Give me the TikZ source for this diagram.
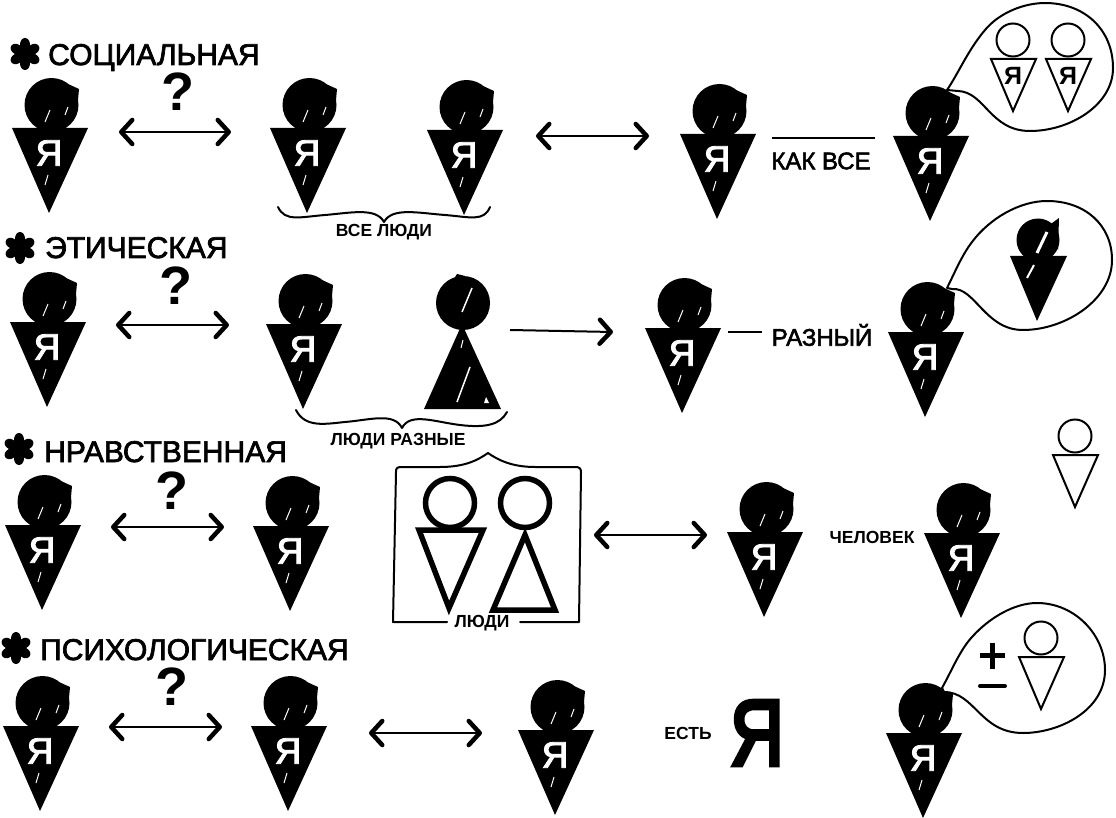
\documentclass[tikz,border=0pt]{standalone}
\usepackage{fontspec}
\setmainfont{Liberation Sans}
\newfontfamily\heavy[FakeBold=2.4]{Liberation Sans}
\newfontfamily\hvy[FakeBold=5]{Liberation Sans}
\usetikzlibrary{arrows.meta}
\tikzset{
  x=1pt,y=-1pt,
  headdot/.style={circle,fill=black,inner sep=0pt,minimum size=54pt},
  ringdot/.style={circle,draw=black,line width=2pt,fill=white,inner sep=0pt,minimum size=33pt},
  bigring/.style={circle,draw=black,line width=5.5pt,fill=white,inner sep=0pt,minimum size=49pt},
  ya/.style={text=white,font=\heavy\fontsize{37}{37}\selectfont,inner sep=0pt},
  yab/.style={text=black,font=\fontsize{25}{25}\selectfont\bfseries,inner sep=0pt},
  head/.style={font=\heavy\fontsize{30}{30}\selectfont,inner sep=0pt,anchor=base west},
  flowerc/.style={circle,fill=black,inner sep=0pt,minimum size=11pt},
  qm/.style={font=\fontsize{54}{54}\selectfont\bfseries,inner sep=0pt},
  lab/.style={font=\heavy\fontsize{24}{24}\selectfont,inner sep=0pt},
  small/.style={font=\fontsize{17.5}{17.5}\selectfont\bfseries,inner sep=0pt},
  biarrow/.style={line width=2pt,{Straight Barb[length=11pt,width=24pt,line width=4.5pt,round]}-{Straight Barb[length=11pt,width=24pt,line width=4.5pt,round]}},
  oneway/.style={line width=2pt,-{Straight Barb[length=11pt,width=24pt,line width=4.5pt,round]}},
  curve/.style={line width=2pt,line cap=round,line join=round},
  thinout/.style={draw=black,line width=2pt,fill=white,line join=miter},
  slash/.style={white,line width=1pt}
}
% name, triangle centre x, triangle top y
\newcommand\person[3]{%
  \node[headdot] (#1h) at (#2+1.5,#3-23) {};
  \fill[black] (#2+18,#3-44) -- (#2+29,#3-39) -- (#2+28,#3-28) -- cycle;
  \fill[black] (#2-38,#3) -- (#2+38,#3) -- (#2-1,#3+85) -- cycle;
  \node[ya] (#1t) at (#2-1,#3+25) {Я};
  \draw[slash] (#2,#3-18) -- (#2-5,#3-6);
  \draw[slash] (#2+18,#3-21) -- (#2+15,#3-13);
  \draw[slash] (#2-2,#3+47) -- (#2-5,#3+57);
}
% name, x, y of ring centre
\newcommand\outline[3]{%
  \node[ringdot] (#1h) at (#2,#3) {};
  \draw[thinout] (#2-22,#3+19) -- (#2+23,#3+19) -- (#2,#3+71) -- cycle;
}
% name, x, y
\newcommand\flower[3]{%
  \node[flowerc] (#1) at (#2,#3) {};
  \foreach \a in {30,90,...,330} {
    \fill[black] (#1.center) ++(\a:9.5pt) circle [x radius=6.5pt,y radius=5pt,rotate=\a];
  }
}
\begin{document}
\begin{tikzpicture}
\useasboundingbox (0,0) rectangle (1116,818);
% row 1
\flower{f1}{25}{54}
\node[head] (t1) at (48,65) {СОЦИАЛЬНАЯ};
\person{a1}{50}{128}
\person{a2}{308}{128}
\person{a3}{465}{130}
\person{a4}{718}{134}
\person{a5}{931}{136}
\node[qm] (q1) at (178,92) {?};
\coordinate (a1l) at (119,132); \coordinate (a1r) at (231,132);
\draw[biarrow] (a1l) -- (a1r);
\coordinate (a2l) at (536,136); \coordinate (a2r) at (649,136);
\draw[biarrow] (a2l) -- (a2r);
\coordinate (b1a) at (278,207); \coordinate (b1c) at (384,222); \coordinate (b1b) at (490,207);
\draw[curve] (b1a) .. controls (285,222) and (300,217) .. (325,215) .. controls (350,213) and (376,207) .. (b1c)
  .. controls (392,207) and (418,213) .. (445,215) .. controls (470,217) and (484,222) .. (b1b);
\node[small] (l1) at (384,232) {ВСЕ ЛЮДИ};
\coordinate (d1a) at (772,138); \coordinate (d1b) at (875,138);
\draw[line width=1.6pt] (d1a) -- (d1b);
\node[lab] (k1) at (821,161) {КАК ВСЕ};
\coordinate (s1) at (947,90); \coordinate (s1e) at (958,91);
\draw[curve,fill=white] (s1) .. controls (958,74) and (968,50) .. (985,30)
  .. controls (1000,12) and (1025,3) .. (1045,3)
  .. controls (1085,3) and (1113,30) .. (1113,68)
  .. controls (1113,105) and (1070,131) .. (1030,131)
  .. controls (990,131) and (985,92) .. (s1e) -- (s1);
\outline{o1}{1013}{40}
\outline{o2}{1068}{40}
\node[yab] (oy1) at (1013,76) {Я};
\node[yab] (oy2) at (1068,76) {Я};
% row 2
\flower{f2}{20}{248}
\node[head] (t2) at (45,258) {ЭТИЧЕСКАЯ};
\person{b1}{48}{322}
\person{b2}{304}{324}
\person{b3}{683}{328}
\person{b4}{926}{332}
\node[qm] (q2) at (176,286) {?};
\coordinate (b2l) at (116,325); \coordinate (b2r) at (229,325);
\draw[biarrow] (b2l) -- (b2r);
% dark triangle person
\node[headdot] (bp) at (463,303) {};
\fill[black] (457,274) -- (465,276) -- (452,282) -- cycle;
\fill[black] (462,324) -- (501,409) -- (424,409) -- cycle;
\draw[slash,line width=1.5pt] (472,288) -- (462,312);
\draw[slash] (463,340) -- (461,348);
\draw[slash,line width=1.5pt] (470,367) -- (457,402);
\fill[white] (486,397) -- (489,403) -- (484,403) -- cycle;
\coordinate (b3l) at (510,330); \coordinate (b3r) at (613,332);
\draw[oneway] (b3l) -- (b3r);
\coordinate (b2a) at (296,410); \coordinate (b2c) at (402,428); \coordinate (b2b) at (507,412);
\draw[curve] (b2a) .. controls (305,428) and (325,424) .. (345,422) .. controls (370,420) and (394,412) .. (b2c)
  .. controls (410,412) and (435,422) .. (460,425) .. controls (485,428) and (500,425) .. (b2b);
\node[small] (l2) at (398,441) {ЛЮДИ РАЗНЫЕ};
\coordinate (d2a) at (728,332); \coordinate (d2b) at (762,332);
\draw[line width=1.6pt] (d2a) -- (d2b);
\node[lab] (k2) at (822,335) {РАЗНЫЙ};
\coordinate (s2) at (947,288); \coordinate (s2e) at (952,289);
\draw[curve,fill=white] (s2) .. controls (955,272) and (962,255) .. (972,242)
  .. controls (990,218) and (1020,201) .. (1047,201)
  .. controls (1085,201) and (1112,225) .. (1112,260)
  .. controls (1112,300) and (1065,330) .. (1023,330)
  .. controls (985,330) and (975,287) .. (s2e) -- (s2);
\node[circle,fill=black,inner sep=0pt,minimum size=43pt] (bh) at (1038,240) {};
\fill[black] (1048,226) -- (1059,218) -- (1058,250) -- cycle;
\fill[black] (1010,256) -- (1067,256) -- (1037,321) -- cycle;
\draw[white,line width=3pt] (1047,232) -- (1037,253);
\draw[white,line width=2pt] (1034,265) -- (1027,278);
% row 3
\flower{f3}{19}{449}
\node[head] (t3) at (44,462) {НРАВСТВЕННАЯ};
\person{c1}{43}{525}
\person{c2}{291}{526}
\person{c3}{765}{532}
\person{c4}{962}{533}
\node[qm] (q3) at (172,491) {?};
\coordinate (c1l) at (111,527); \coordinate (c1r) at (224,527);
\draw[biarrow] (c1l) -- (c1r);
\coordinate (c2l) at (594,535); \coordinate (c2r) at (707,535);
\draw[biarrow] (c2l) -- (c2r);
% box
\coordinate (bx1) at (447,622); \coordinate (bx2) at (520,622);
\draw[curve] (bx1) -- (393,622) -- (396,472) .. controls (396,468) and (397,467) .. (402,467)
  -- (440,467) .. controls (465,467) and (478,460) .. (488,453)
  .. controls (498,460) and (512,467) .. (535,467) -- (575,467)
  .. controls (579,467) and (581,468) .. (581,472) -- (579,622) -- (bx2);
\node[bigring] (r1) at (450,503) {};
\node[bigring] (r2) at (525,503) {};
\draw[black,line width=5.5pt,miter limit=10] (419,530) -- (483,530) -- (449,608) -- cycle;
\draw[black,line width=5.5pt,miter limit=10] (525,535) -- (555,610) -- (493,610) -- cycle;
\node[small] (l3) at (482,623) {ЛЮДИ};
\node[small] (k3) at (872,537) {ЧЕЛОВЕК};
\outline{o3}{1075}{436}
% row 4
\flower{f4}{16}{648}
\node[head] (t4) at (40,660) {ПСИХОЛОГИЧЕСКАЯ};
\person{e1}{41}{726}
\person{e2}{289}{726}
\person{e3}{556}{730}
\person{e4}{924}{733}
\node[qm] (q4) at (172,687) {?};
\coordinate (e1l) at (109,727); \coordinate (e1r) at (222,727);
\draw[biarrow] (e1l) -- (e1r);
\coordinate (e2l) at (369,733); \coordinate (e2r) at (482,733);
\draw[biarrow] (e2l) -- (e2r);
\node[small] (k4) at (688,733) {ЕСТЬ};
\node[inner sep=0pt,font=\hvy\fontsize{93}{93}\selectfont] (by) at (757,733) {\scalebox{.8}[1]{Я}};
\coordinate (s4) at (942,688); \coordinate (s4e) at (944,692);
\draw[curve,fill=white] (s4) .. controls (952,670) and (960,650) .. (972,637)
  .. controls (990,617) and (1015,603) .. (1037,603)
  .. controls (1075,603) and (1105,635) .. (1105,670)
  .. controls (1105,710) and (1060,733) .. (1023,733)
  .. controls (980,733) and (975,692) .. (s4e) -- (s4);
\outline{o4}{1041}{638}
\draw[line width=5pt] (980,655) -- (1005,655);
\draw[line width=5pt] (992,643) -- (992,669);
\draw[line width=4pt,line cap=round] (980,686) -- (1005,686);
\end{tikzpicture}
\end{document}
